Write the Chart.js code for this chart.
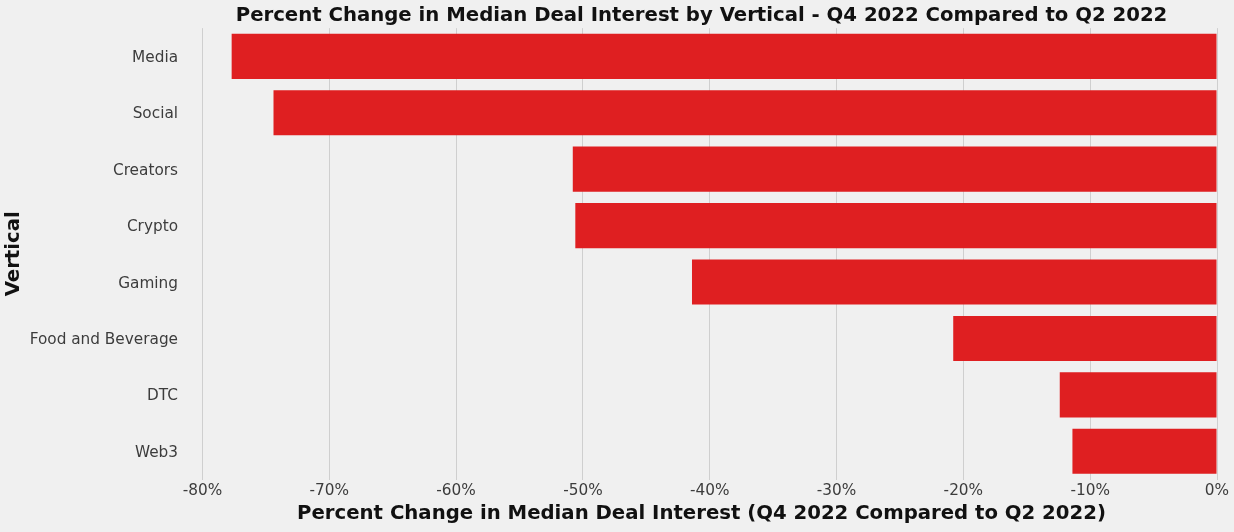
<!DOCTYPE html>
<html>
<head>
<meta charset="utf-8">
<script src="https://cdn.jsdelivr.net/npm/chart.js@4"></script>
<style>
  html, body { margin: 0; padding: 0; background: #f0f0f0; }
  #wrap { width: 1234px; height: 532px; position: relative; }
</style>
</head>
<body>
<div id="wrap"><canvas id="chart"></canvas></div>
<script>
const verticals = ['Media', 'Social', 'Creators', 'Crypto', 'Gaming', 'Food and Beverage', 'DTC', 'Web3'];
const pctChange = [-77.7, -74.4, -50.8, -50.6, -41.4, -20.8, -12.4, -11.4];
const xTickValues = [-80, -70, -60, -50, -40, -30, -20, -10, 0];

const ctx = document.getElementById('chart').getContext('2d');

chart = new Chart(ctx, {
    type: 'bar',
    data: {
        labels: verticals,
        datasets: [
            {
                data: pctChange,
                backgroundColor: '#df1f21',
                borderWidth: 0,
                barPercentage: 0.8,
                categoryPercentage: 1.0,
            },
        ],
    },
    options: {
        indexAxis: 'y',
        responsive: true,
        maintainAspectRatio: false,
        animation: false,
        layout: {
            padding: { left: 0, right: 17, top: 0, bottom: 0 },
        },
        scales: {
            x: {
                min: -81.3,
                max: 0,
                afterBuildTicks: function (scale) {
                    scale.ticks = xTickValues.map(v => ({ value: v }));
                },
                afterFit: function (scale) {
                    scale.height = 52.5;
                },
                ticks: {
                    color: '#3c3c3c',
                    padding: 2,
                    font: { family: 'DejaVu Sans', size: 15.3 },
                    callback: function (value) {
                        return value + '%';
                    },
                },
                grid: {
                    color: '#cfcfcf',
                    lineWidth: 1,
                    drawTicks: false,
                },
                border: { display: false },
                title: {
                    display: true,
                    text: 'Percent Change in Median Deal Interest (Q4 2022 Compared to Q2 2022)',
                    color: '#111',
                    font: { family: 'DejaVu Sans', size: 19.7, weight: 'bold' },
                    padding: { top: 0, bottom: 6 },
                },
            },
            y: {
                afterFit: function (scale) {
                    scale.width = 186;
                },
                ticks: {
                    color: '#3c3c3c',
                    padding: 8,
                    labelOffset: 1.5,
                    font: { family: 'DejaVu Sans', size: 15.3 },
                },
                grid: { display: false, drawTicks: false },
                border: { display: false },
                title: {
                    display: true,
                    text: 'Vertical',
                    color: '#111',
                    font: { family: 'DejaVu Sans', size: 19.7, weight: 'bold' },
                    padding: { top: 2, bottom: 0 },
                },
            },
        },
        plugins: {
            legend: { display: false },
            tooltip: { enabled: false },
            title: {
                display: true,
                fullSize: false,
                text: 'Percent Change in Median Deal Interest by Vertical - Q4 2022 Compared to Q2 2022',
                color: '#111',
                font: { family: 'DejaVu Sans', size: 19.7, weight: 'bold', lineHeight: 1.2 },
                padding: { top: 4, bottom: 0.5 },
            },
        },
    },
});
</script>
</body>
</html>
